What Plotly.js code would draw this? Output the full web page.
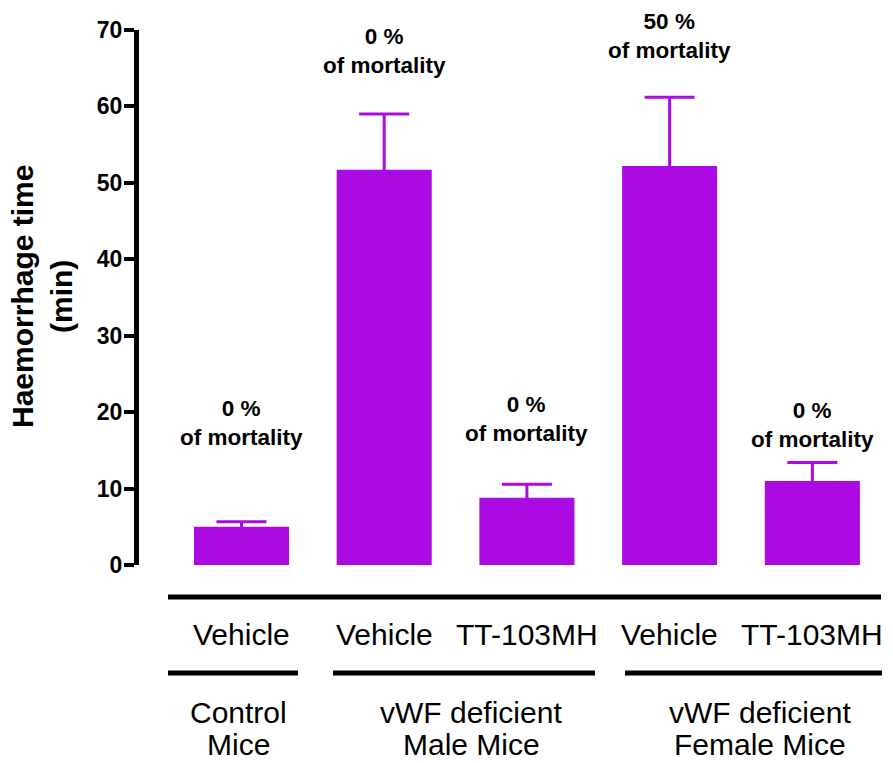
<!DOCTYPE html>
<html>
<head>
<meta charset="utf-8">
<script src="https://cdn.plot.ly/plotly-3.0.1.min.js"></script>
<style>html,body{margin:0;padding:0;background:#fff;}#chart{width:893px;height:763px;}</style>
</head>
<body>
<div id="chart"></div>
<script>
// ---- data ----
const treatments = ["Vehicle", "Vehicle", "TT-103MH", "Vehicle", "TT-103MH"];
const haemorrhageTime = [5.0, 51.7, 8.8, 52.2, 11.0];
const errorSEM = [0.67, 7.3, 1.75, 9.0, 2.4];
const mortalityPct = ["0 %", "0 %", "0 %", "50 %", "0 %"];
const mortalityLabelY = [18.6, 67.3, 19.1, 69.2, 18.3];
const groupLine1 = ["Control", "vWF deficient", "vWF deficient"];
const groupLine2 = ["Mice", "Male Mice", "Female Mice"];
const groupX = [-0.02, 1.61, 3.63];
const yTicks = [0, 10, 20, 30, 40, 50, 60, 70];

// ---- layout constants ----
const L = 139, R = 13, T = 30, B = 198, W = 893, H = 763;
const pw = W - L - R, ph = H - T - B;
const px2x = p => (p - L) / pw;
const py2y = p => (H - B - p) / ph;
const purple = "rgb(171,10,226)";
const FONT = "Arial, 'Liberation Sans', sans-serif";

const xs = treatments.map((_, i) => i);

const trace = {
  type: "bar",
  x: xs,
  y: haemorrhageTime,
  width: 0.666,
  marker: {color: purple, line: {width: 0}},
  error_y: {type: "data", symmetric: true, array: errorSEM,
            color: purple, thickness: 3, width: 25},
  hoverinfo: "skip"
};

const annotations = [];
xs.forEach((x, i) => {
  annotations.push({x: x, y: mortalityLabelY[i], xref: "x", yref: "y",
    text: mortalityPct[i] + "<br>of mortality", showarrow: false,
    xanchor: "center", yanchor: "middle",
    font: {family: FONT, size: 22.5, color: "#000", weight: "bold"}});
  annotations.push({x: x, y: py2y(634), xref: "x", yref: "paper",
    text: treatments[i], showarrow: false, xanchor: "center", yanchor: "middle",
    font: {family: FONT, size: 30, color: "#000"}});
});
groupX.forEach((gx, i) => {
  annotations.push({x: gx, y: py2y(712), xref: "x", yref: "paper",
    text: groupLine1[i], showarrow: false, xanchor: "center", yanchor: "middle",
    font: {family: FONT, size: 30, color: "#000"}});
  annotations.push({x: gx, y: py2y(744), xref: "x", yref: "paper",
    text: groupLine2[i], showarrow: false, xanchor: "center", yanchor: "middle",
    font: {family: FONT, size: 30, color: "#000"}});
});
annotations.push({x: px2x(42), y: py2y(297), xref: "paper", yref: "paper",
  text: "Haemorrhage time<br>(min)", textangle: -90, showarrow: false,
  xanchor: "center", yanchor: "middle",
  font: {family: FONT, size: 30, color: "#000", weight: "bold"}});

const lineStyle = {color: "#000", width: 5};
const shapes = [
  {type: "line", xref: "paper", yref: "paper", x0: px2x(168), x1: px2x(881), y0: py2y(597), y1: py2y(597), line: lineStyle},
  {type: "line", xref: "paper", yref: "paper", x0: px2x(168), x1: px2x(298), y0: py2y(673), y1: py2y(673), line: lineStyle},
  {type: "line", xref: "paper", yref: "paper", x0: px2x(333), x1: px2x(595), y0: py2y(673), y1: py2y(673), line: lineStyle},
  {type: "line", xref: "paper", yref: "paper", x0: px2x(625), x1: px2x(882), y0: py2y(673), y1: py2y(673), line: lineStyle}
];

const layout = {
  width: W, height: H,
  margin: {l: L, r: R, t: T, b: B, pad: 0},
  paper_bgcolor: "#fff", plot_bgcolor: "#fff",
  showlegend: false,
  xaxis: {range: [-0.718, 4.474], visible: false, fixedrange: true},
  yaxis: {range: [0, 70], tickvals: yTicks, ticktext: yTicks.map(String),
    showgrid: false, zeroline: false, showline: true, linecolor: "#000", linewidth: 5,
    ticks: "outside", ticklen: 10, tickwidth: 4, tickcolor: "#000",
    ticklabelstandoff: -3,
    tickfont: {family: FONT, size: 23, color: "#000", weight: "bold"}, fixedrange: true},
  annotations: annotations,
  shapes: shapes
};

Plotly.newPlot("chart", [trace], layout, {staticPlot: true, displayModeBar: false});
</script>
</body>
</html>
